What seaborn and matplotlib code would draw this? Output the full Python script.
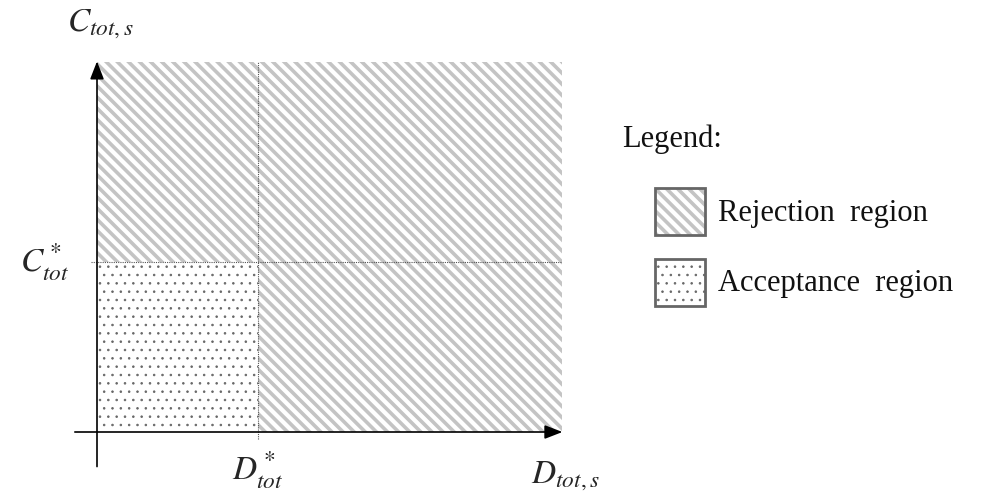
import matplotlib
matplotlib.use("Agg")
import matplotlib.pyplot as plt
import seaborn as sns
from matplotlib.patches import Rectangle

sns.set_theme(style="white")
plt.rcParams['font.family'] = ['Liberation Serif', 'DejaVu Serif']
plt.rcParams['mathtext.fontset'] = 'stix'

# data (threshold units)
d_star = 1.0
c_star = 1.0
x_max = 2.89
y_max = 2.18
labels = ["Rejection  region", "Acceptance  region"]

hcol = '#c4c4c4'
dcol = '#666666'
HSTRIPE = '\\\\\\'
HDOT = '..'

def hatched(ax, xy, w, h, kind):
    if kind == 'rej':
        p = Rectangle(xy, w, h, facecolor='white', edgecolor=hcol, hatch=HSTRIPE, lw=0)
        lw = 2.6
    else:
        p = Rectangle(xy, w, h, facecolor='white', edgecolor=dcol, hatch=HDOT, lw=0)
        lw = 0.6
    if hasattr(p, 'set_hatch_linewidth'):
        p.set_hatch_linewidth(lw)
    ax.add_patch(p)
    return p

fig = plt.figure(figsize=(9.91, 4.96), dpi=100)
ax = fig.add_axes([97/991, 64/496, 465/991, 370/496])
ax.set_xlim(0, x_max)
ax.set_ylim(0, y_max)
ax.axis('off')

hatched(ax, (0, c_star), x_max, y_max - c_star, 'rej')
hatched(ax, (d_star, 0), x_max - d_star, c_star, 'rej')
hatched(ax, (0, 0), d_star, c_star, 'acc')

ax.plot([d_star, d_star], [-0.04, y_max], color='#555555', lw=0.8, ls=(0, (1, 1)), clip_on=False)
ax.plot([-0.04, x_max], [c_star, c_star], color='#555555', lw=0.8, ls=(0, (1, 1)), clip_on=False)

ax.annotate('', xy=(x_max + 0.02, 0), xytext=(-0.155, 0),
            arrowprops=dict(arrowstyle='-|>,head_width=0.35,head_length=0.9', color='black', lw=1.2),
            annotation_clip=False)
ax.annotate('', xy=(0, y_max + 0.02), xytext=(0, -0.22),
            arrowprops=dict(arrowstyle='-|>,head_width=0.35,head_length=0.9', color='black', lw=1.2),
            annotation_clip=False)

fs = 24
fig.text(100/991, 1 - 24/496, r'$C_{tot,s}$', fontsize=fs, ha='center', va='center')
fig.text(45/991, 1 - 262/496, r'$C^*_{tot}$', fontsize=fs, ha='center', va='center')
fig.text(258/991, 1 - 470/496, r'$D^*_{tot}$', fontsize=fs, ha='center', va='center')
fig.text(565/991, 1 - 476/496, r'$D_{tot,s}$', fontsize=fs, ha='center', va='center')

fig.text(622/991, 1 - 139/496, 'Legend:', fontsize=22, ha='left', va='center', color='#111111')
lax = fig.add_axes([0, 0, 1, 1], facecolor='none')
lax.set_xlim(0, 991); lax.set_ylim(496, 0); lax.axis('off')
hatched(lax, (655, 188), 50, 47, 'rej')
lax.add_patch(Rectangle((655, 188), 50, 47, facecolor='none', edgecolor='#666666', lw=2))
hatched(lax, (655, 259), 50, 47, 'acc')
lax.add_patch(Rectangle((655, 259), 50, 47, facecolor='none', edgecolor='#666666', lw=2))
lax.text(718, 213, labels[0], fontsize=22, ha='left', va='center', color='#111111')
lax.text(718, 284, labels[1], fontsize=22, ha='left', va='center', color='#111111')

fig.savefig('out.png', dpi=100, facecolor='white')
